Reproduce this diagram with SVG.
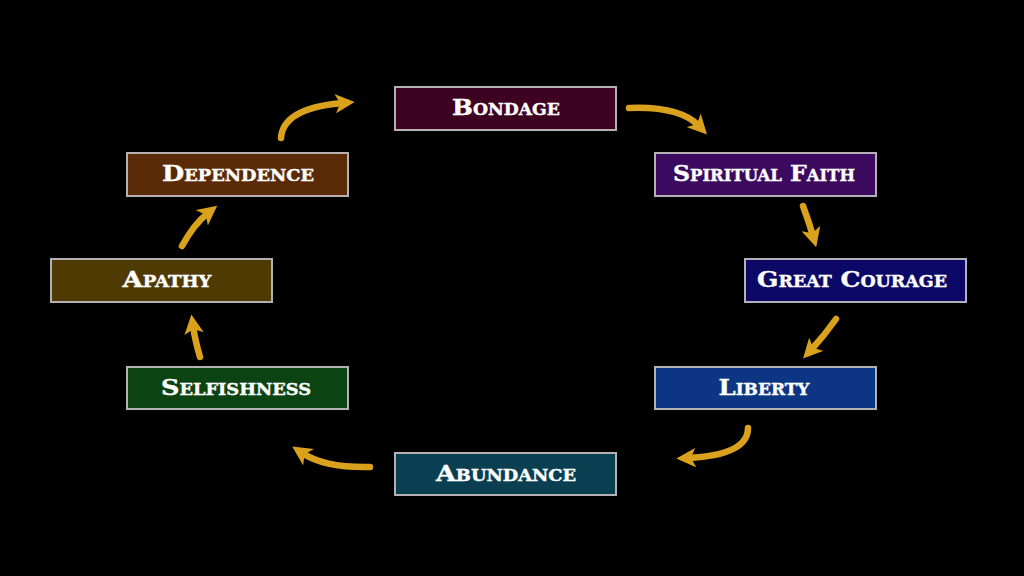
<svg xmlns="http://www.w3.org/2000/svg" width="1024" height="576" viewBox="0 0 1024 576">
<style>
.box{stroke:#b4b0b4;stroke-width:2}
.lbl{font-family:"DejaVu Serif","Liberation Serif",serif;font-weight:900;font-variant:small-caps;font-size:23px;fill:#ffffff;text-anchor:middle;stroke:#ffffff;stroke-width:0.4}
.arr{fill:none;stroke:#d9a11c;stroke-width:6.5;stroke-linecap:round;marker-end:url(#head)}
</style>
<defs>
<marker id="head" viewBox="0 0 10 10" refX="4" refY="5" markerWidth="3" markerHeight="3" orient="auto" markerUnits="strokeWidth">
<path d="M0,0 L10,5 L0,10 L2.5,5 z" fill="#d9a11c"/>
</marker>
</defs>
<rect width="1024" height="576" fill="#000"/>
<g id="connectors">
<path class="arr" d="M629,108 Q680,106 699,126"/>
<path class="arr" d="M803,206 Q809,222 813,236"/>
<path class="arr" d="M836,319 Q824,336 811,350"/>
<path class="arr" d="M748,428 Q748,455 688,458"/>
<path class="arr" d="M370,467 Q325,468 302,453"/>
<path class="arr" d="M200,357 Q195,340 193,326"/>
<path class="arr" d="M182,246 Q194,224 208,213"/>
<path class="arr" d="M281,138 Q283,108 343,103"/>
</g>
<g id="bondage"><rect class="box" x="395" y="87" width="221" height="43" fill="#3e0320"/><text class="lbl" x="506" y="115" textLength="108" lengthAdjust="spacingAndGlyphs">Bondage</text></g>
<g id="spiritual-faith"><rect class="box" x="655" y="153" width="221" height="43" fill="#3b0a5e"/><text class="lbl" x="764" y="181" textLength="182" lengthAdjust="spacingAndGlyphs">Spiritual Faith</text></g>
<g id="great-courage"><rect class="box" x="745" y="259" width="221" height="43" fill="#0c0866"/><text class="lbl" x="852" y="287" textLength="190" lengthAdjust="spacingAndGlyphs">Great Courage</text></g>
<g id="liberty"><rect class="box" x="655" y="367" width="221" height="42" fill="#0c3584"/><text class="lbl" x="764" y="395" textLength="91" lengthAdjust="spacingAndGlyphs">Liberty</text></g>
<g id="abundance"><rect class="box" x="395" y="453" width="221" height="42" fill="#0a3f52"/><text class="lbl" x="506" y="481" textLength="140" lengthAdjust="spacingAndGlyphs">Abundance</text></g>
<g id="selfishness"><rect class="box" x="127" y="367" width="221" height="42" fill="#0b4412"/><text class="lbl" x="236" y="395" textLength="150" lengthAdjust="spacingAndGlyphs">Selfishness</text></g>
<g id="apathy"><rect class="box" x="51" y="259" width="221" height="43" fill="#503a04"/><text class="lbl" x="167" y="287" textLength="89" lengthAdjust="spacingAndGlyphs">Apathy</text></g>
<g id="dependence"><rect class="box" x="127" y="153" width="221" height="43" fill="#5a2a06"/><text class="lbl" x="238" y="181" textLength="152" lengthAdjust="spacingAndGlyphs">Dependence</text></g>
</svg>
